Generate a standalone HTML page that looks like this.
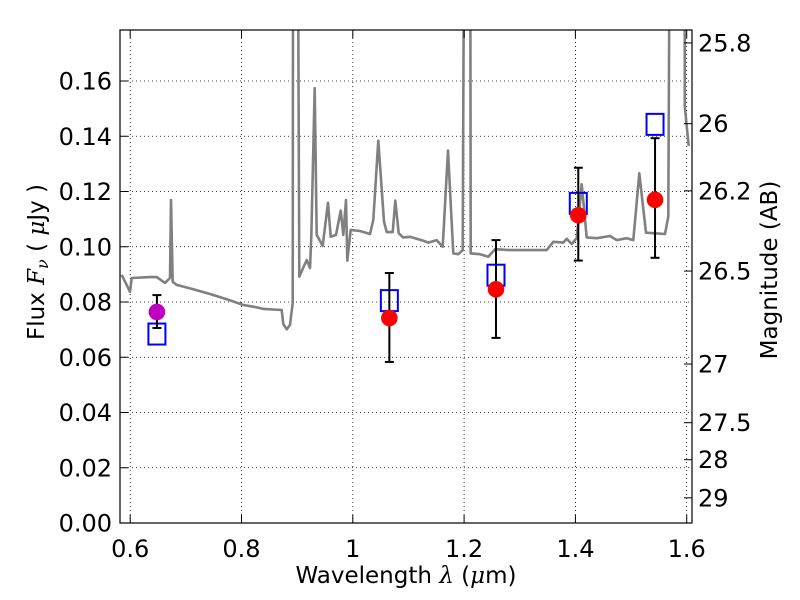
<!DOCTYPE html>
<html><head><meta charset="utf-8"><style>
html,body{margin:0;padding:0;background:#fff;}
svg{display:block;font-family:"DejaVu Sans","Liberation Sans",sans-serif;}
</style></head><body>
<svg id="chart" width="800" height="600" viewBox="0 0 800 600" xmlns="http://www.w3.org/2000/svg">
<defs><clipPath id="clip"><rect x="120" y="30" width="572" height="493"/></clipPath></defs>
<rect x="0" y="0" width="800" height="600" fill="#fff"/>
<g id="grid"></g>
<g id="spec" clip-path="url(#clip)"></g>
<g id="marks"></g>
<rect x="120" y="30" width="572" height="493" fill="none" stroke="#000" stroke-width="1.2"/>
<g id="axes"></g>
<text x="406" y="583" font-size="23" text-anchor="middle">Wavelength  <tspan font-style="italic" font-family="DejaVu Serif, serif">λ</tspan> (<tspan font-style="italic" font-family="DejaVu Serif, serif">μ</tspan>m)</text>
<text transform="translate(44,262) rotate(-90)" font-size="23" text-anchor="middle">Flux  <tspan font-style="italic" font-family="DejaVu Serif, serif">F</tspan><tspan font-style="italic" font-size="16" dy="4" font-family="DejaVu Serif, serif">ν</tspan><tspan dy="-4">  ( </tspan><tspan font-style="italic" font-family="DejaVu Serif, serif">μ</tspan>Jy )</text>
<text transform="translate(777,270) rotate(-90)" font-size="23" text-anchor="middle">Magnitude (AB)</text>
</svg>
<script>
const specLambda=[0.5847,0.5996,0.6027,0.6356,0.6476,0.6625,0.6715,0.6733,0.6764,0.6836,0.7134,0.7434,0.7734,0.8032,0.8212,0.8392,0.8722,0.8751,0.8812,0.8872,0.8920,0.8931,0.8997,0.9039,0.9172,0.9231,0.9254,0.9315,0.9351,0.9459,0.9554,0.9603,0.9698,0.9783,0.9829,0.9878,0.9901,0.9962,1.0129,1.0309,1.0368,1.0458,1.0561,1.0609,1.0717,1.0764,1.0825,1.0902,1.1028,1.1267,1.1357,1.1508,1.1615,1.1711,1.1806,1.1896,1.1975,1.2016,1.2106,1.2119,1.2286,1.2435,1.2555,1.2825,1.3484,1.3603,1.3782,1.3844,1.3934,1.4023,1.4113,1.4203,1.4383,1.4622,1.4742,1.4922,1.5040,1.5148,1.5268,1.5610,1.5669,1.5712,1.5960,1.5965,1.6036];
const specFlux=[0.0898,0.0837,0.0887,0.0890,0.0890,0.0869,0.0887,0.1169,0.0873,0.0862,0.0846,0.0829,0.0810,0.0789,0.0783,0.0775,0.0771,0.0720,0.0701,0.0717,0.0796,0.30,0.30,0.0892,0.0952,0.0923,0.1036,0.1574,0.1043,0.1003,0.1159,0.1036,0.1043,0.1131,0.1043,0.1169,0.0950,0.1061,0.1057,0.1046,0.1097,0.1384,0.1091,0.1053,0.1053,0.1167,0.1049,0.1034,0.1036,0.1022,0.1015,0.1024,0.1000,0.1348,0.0976,0.0973,0.0988,0.30,0.30,0.0976,0.0973,0.0964,0.0991,0.0988,0.0988,0.1018,0.1015,0.1029,0.1010,0.1031,0.1226,0.1034,0.1031,0.1039,0.1024,0.1031,0.1024,0.1266,0.1051,0.1046,0.1109,0.30,0.30,0.1507,0.1365];
const obsLambda=[0.648,1.0657,1.2573,1.4052,1.5431];
const obsFlux=[0.0764,0.0742,0.0846,0.1114,0.1170];
const obsErrHi=[0.0825,0.0905,0.1024,0.1286,0.1393];
const obsErrLo=[0.0706,0.0583,0.0670,0.0950,0.0960];
const obsColor=['#bf00bf','#ff0000','#ff0000','#ff0000','#ff0000'];
const modelLambda=[0.648,1.0657,1.2573,1.4052,1.5431];
const modelFlux=[0.0684,0.0805,0.0897,0.1157,0.1443];
const xTicks=[0.6,0.8,1.0,1.2,1.4,1.6];
const xTickLabels=['0.6','0.8','1','1.2','1.4','1.6'];
const yTicks=[0,0.02,0.04,0.06,0.08,0.10,0.12,0.14,0.16];
const yTickLabels=['0.00','0.02','0.04','0.06','0.08','0.10','0.12','0.14','0.16'];
const magTicks=[25.8,26,26.2,26.5,27,27.5,28,29];
const magTickLabels=['25.8','26','26.2','26.5','27','27.5','28','29'];

const NS='http://www.w3.org/2000/svg';
const X=l=>130.2+(l-0.6)*556.5;
const Y=f=>523-f*2762.5;
const magToFlux=m=>Math.pow(10,(23.9-m)/2.5);
function mk(tag,attrs,parent){const e=document.createElementNS(NS,tag);for(const k in attrs)e.setAttribute(k,attrs[k]);parent.appendChild(e);return e;}
const grid=document.getElementById('grid'),axes=document.getElementById('axes'),spec=document.getElementById('spec'),marks=document.getElementById('marks');
xTicks.forEach((t,i)=>{
  const x=X(t);
  const g=mk('line',{x1:x,x2:x,y1:30,y2:523,stroke:'#000','stroke-width':0.8,'stroke-dasharray':'1,3'},grid);
  
  
  mk('line',{x1:x,x2:x,y1:523,y2:515,stroke:'#000'},axes);
  mk('line',{x1:x,x2:x,y1:30,y2:38,stroke:'#000'},axes);
  const tx=mk('text',{x:x,y:557,'font-size':24,'text-anchor':'middle'},axes);
  tx.textContent=xTickLabels[i];
  
  
});
yTicks.forEach((t,i)=>{
  const y=Y(t);
  if(t>0){const g=mk('line',{x1:120,x2:692,y1:y,y2:y,stroke:'#000','stroke-width':0.8,'stroke-dasharray':'1,3'},grid);
  
  }
  mk('line',{x1:120,x2:128,y1:y,y2:y,stroke:'#000'},axes);
  const tx=mk('text',{x:112,y:y+8.5,'font-size':24,'text-anchor':'end'},axes);
  tx.textContent=yTickLabels[i];
  
  
});
magTicks.forEach((m,i)=>{
  const y=Y(magToFlux(m));
  mk('line',{x1:684,x2:692,y1:y,y2:y,stroke:'#000'},axes);
  const tx=mk('text',{x:698,y:y+8.5,'font-size':24,'text-anchor':'start'},axes);
  tx.textContent=magTickLabels[i];
  
  
});
const pts=specLambda.map((l,i)=>X(l).toFixed(1)+','+Y(specFlux[i]).toFixed(1)).join(' ');
const pl=mk('polyline',{points:pts,fill:'none',stroke:'#808080','stroke-width':2.6,'stroke-linejoin':'round'},spec);


modelLambda.forEach((l,i)=>{
  const r=mk('rect',{x:X(l)-8.5,y:Y(modelFlux[i])-10.5,width:17,height:21,fill:'none',stroke:'#0000ff','stroke-width':2},marks);
  
  
});
obsLambda.forEach((l,i)=>{
  const x=X(l);
  const e=mk('g',{stroke:'#000','stroke-width':2},marks);
  
  
  mk('line',{x1:x,x2:x,y1:Y(obsErrHi[i]),y2:Y(obsErrLo[i])},e);
  mk('line',{x1:x-4.5,x2:x+4.5,y1:Y(obsErrHi[i]),y2:Y(obsErrHi[i])},e);
  mk('line',{x1:x-4.5,x2:x+4.5,y1:Y(obsErrLo[i]),y2:Y(obsErrLo[i])},e);
  const c=mk('circle',{cx:x,cy:Y(obsFlux[i]),r:8.3,fill:obsColor[i]},marks);
  
  
});
</script>
</body></html>
